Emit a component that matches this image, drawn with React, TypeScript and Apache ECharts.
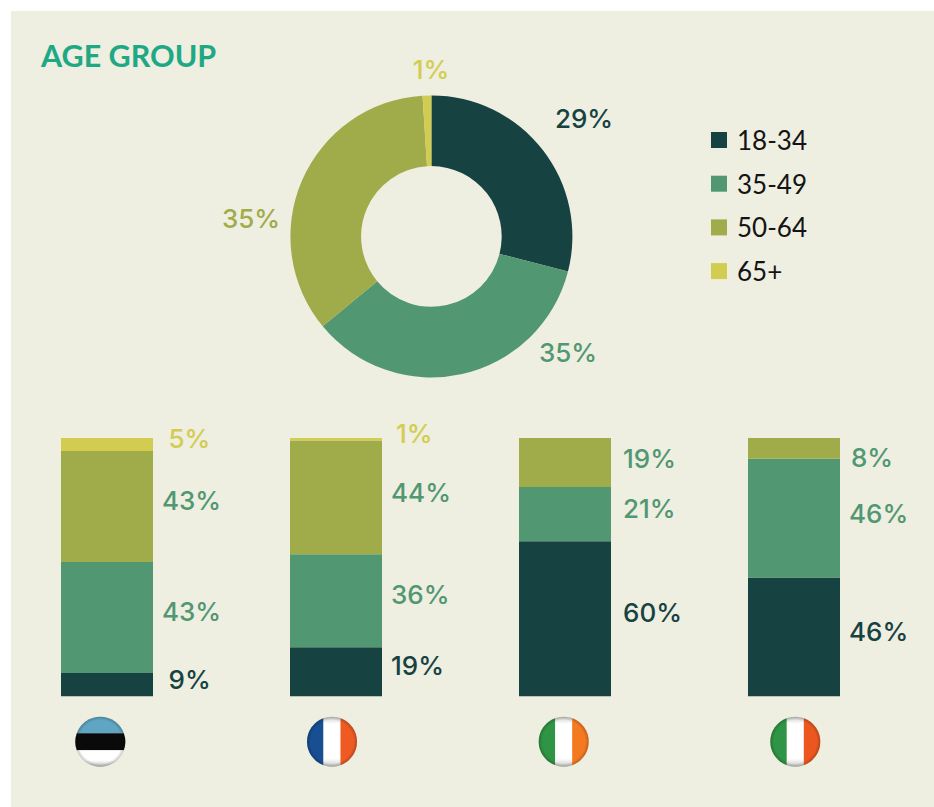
import React, { useEffect, useRef } from "react";
import * as echarts from "echarts";

const ageGroups = ["18-34", "35-49", "50-64", "65+"];
const overall = [29, 35, 35, 1];
const countries = ["Estonia", "France", "Ireland", "Italy"];
const age1834 = [9, 19, 60, 46];
const age3549 = [43, 36, 21, 46];
const age5064 = [43, 44, 19, 8];
const age65 = [5, 1, 0, 0];

const DARK = "#164241";
const GREEN = "#519772";
const OLIVE = "#a0ab4a";
const YELLOW = "#d2cd50";
const COLORS = [DARK, GREEN, OLIVE, YELLOW];
const TITLE_FONT = "Lato, 'Noto Sans', sans-serif";
const FONT = "Inter, Lato, sans-serif";

// x, y of each doughnut label, in the page
const pieLabelAt = [
  [584, 118],
  [568, 352],
  [251, 218],
  [431, 69],
];
// label colour and offset for each stacked segment: [series][country]
const barLabelColor = [
  [DARK, DARK, DARK, DARK],
  [GREEN, GREEN, GREEN, GREEN],
  [GREEN, GREEN, GREEN, GREEN],
  [YELLOW, YELLOW, YELLOW, YELLOW],
];
const barLabelOffset = [
  [[5.5, -5.5], [-1, -6.5], [2, -6.5], [-1, -5.7]],
  [[-1, -6], [-1, -6], [2, -6], [-1, -5]],
  [[-1, -6], [-1, -5], [2, -4.5], [1, 9]],
  [[5.5, -6], [4, -6], [0, 0], [0, 0]],
];

const R = 25;
const S = 8.5;
const H = Math.sqrt(R * R - S * S);
let registered = false;
function registerFlagShapes() {
  if (registered) return;
  registered = true;
  const g = echarts.graphic as any;
  g.registerShape("flagA", g.extendPath(`M ${-S} ${-H} A ${R} ${R} 0 0 0 ${-S} ${H} Z`, {}));
  g.registerShape("flagC", g.extendPath(`M ${S} ${-H} A ${R} ${R} 0 0 1 ${S} ${H} Z`, {}));
  g.registerShape(
    "flagB",
    g.extendPath(`M ${-S} ${-H} A ${R} ${R} 0 0 1 ${S} ${-H} L ${S} ${H} A ${R} ${R} 0 0 1 ${-S} ${H} Z`, {}),
  );
}

const whiteFill = {
  type: "linear",
  x: 0,
  y: 0,
  x2: 0,
  y2: 1,
  colorStops: [
    { offset: 0, color: "#cfcfcb" },
    { offset: 0.14, color: "#ffffff" },
    { offset: 0.84, color: "#ffffff" },
    { offset: 1, color: "#c9c9c5" },
  ],
};
const whiteFillH = {
  type: "linear",
  x: 0,
  y: 0,
  x2: 1,
  y2: 0,
  colorStops: [
    { offset: 0, color: "#ffffff" },
    { offset: 0.6, color: "#ffffff" },
    { offset: 1, color: "#c4c4c0" },
  ],
};
const shade = {
  type: "radial",
  x: 0.5,
  y: 0.5,
  r: 0.5,
  colorStops: [
    { offset: 0, color: "rgba(0,0,0,0)" },
    { offset: 0.86, color: "rgba(0,0,0,0)" },
    { offset: 1, color: "rgba(0,0,0,0.22)" },
  ],
};

function flag(cx: number, colors: any[], rotation: number) {
  const cy = 741.7;
  return {
    type: "group",
    x: cx,
    y: cy,
    silent: true,
    children: [
      {
        type: "group",
        rotation,
        children: [
          { type: "flagA", style: { fill: colors[0] } },
          { type: "flagB", style: { fill: colors[1] } },
          { type: "flagC", style: { fill: colors[2] } },
        ],
      },
      { type: "circle", shape: { cx: 0, cy: 0, r: R }, style: { fill: shade } },
    ],
  };
}

export default function App() {
  const ref = useRef<HTMLDivElement>(null);
  useEffect(() => {
    registerFlagShapes();
    const chart = echarts.init(ref.current!, undefined, { renderer: "svg" });
    const stacks = [age1834, age3549, age5064, age65];
    chart.setOption({
      animation: false,
      backgroundColor: "#ffffff",
      color: COLORS,
      title: {
        text: "AGE GROUP",
        left: 41,
        top: 39,
        padding: 0,
        textStyle: { fontFamily: TITLE_FONT, fontSize: 30.5, fontWeight: 700, color: "#1fa884" },
      },
      legend: {
        orient: "vertical",
        left: 711,
        top: 125,
        padding: 0,
        itemWidth: 16,
        itemHeight: 16,
        itemGap: 13.7,
        icon: "rect",
        selectedMode: false,
        data: ageGroups,
        textStyle: { fontFamily: TITLE_FONT, fontSize: 26, color: "#141414", padding: [0, 0, 0, 5], lineHeight: 30 },
      },
      grid: { left: 107, width: 687, top: 438, height: 258.3 },
      xAxis: { type: "category", data: countries, show: false, boundaryGap: false },
      yAxis: { type: "value", min: 0, max: 100, show: false },
      series: [
        ...stacks.map((values, s) => ({
          type: "bar",
          name: ageGroups[s],
          stack: "age",
          barWidth: 92,
          clip: false,
          itemStyle: { color: COLORS[s] },
          data: values.map((v, c) => ({
            value: v,
            label: {
              show: v > 0,
              position: "right",
              distance: 10,
              offset: barLabelOffset[s][c],
              formatter: "{c}%",
              fontFamily: FONT,
              fontSize: 26,
              fontWeight: 500,
              color: barLabelColor[s][c],
            },
          })),
        })),
        {
          type: "pie",
          center: [431.4, 236.4],
          radius: [70.3, 141],
          startAngle: 90,
          clockwise: true,
          silent: true,
          itemStyle: { borderWidth: 0 },
          labelLine: { show: false },
          label: {
            show: true,
            position: "outside",
            formatter: "{c}%",
            fontFamily: FONT,
            fontSize: 26,
            fontWeight: 500,
          },
          labelLayout: (p: any) => ({
            x: pieLabelAt[p.dataIndex][0],
            y: pieLabelAt[p.dataIndex][1],
            align: "center",
            verticalAlign: "middle",
          }),
          data: overall.map((v, i) => ({
            name: ageGroups[i],
            value: v,
            itemStyle: { color: COLORS[i] },
            label: { color: [DARK, GREEN, OLIVE, YELLOW][i] },
          })),
        },
      ],
      graphic: [
        { type: "rect", z: -10, silent: true, shape: { x: 11, y: 11, width: 923, height: 796 }, style: { fill: "#eeeee1" } },
        flag(100.3, ["#5fa6c4", "#0a0a0a", whiteFillH], -Math.PI / 2),
        flag(332, ["#174f92", whiteFill, "#ee5a22"], 0),
        flag(563.7, ["#2f9444", whiteFill, "#f47a21"], 0),
        flag(795.3, ["#2f9444", whiteFill, "#ec571f"], 0),
      ],
    });
    return () => chart.dispose();
  }, []);
  return <div ref={ref} style={{ position: "absolute", left: 0, top: 0, width: 934, height: 807 }} />;
}
